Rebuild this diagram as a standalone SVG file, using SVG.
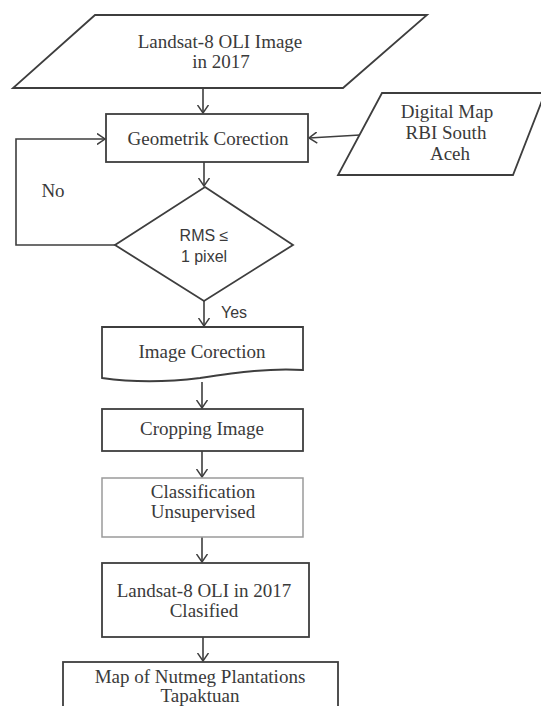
<svg xmlns="http://www.w3.org/2000/svg" width="541" height="706" viewBox="0 0 541 706">
<style>
.s{fill:#fff;stroke:#3e3e3e;stroke-width:1.8}
.l{fill:#fff;stroke:#9a9a9a;stroke-width:1.5}
.t{font-family:"Liberation Serif","Times New Roman",serif;font-size:19px;fill:#3a3a3a;text-anchor:middle}
.a{font-family:"Liberation Sans",Arial,sans-serif;font-size:16px;fill:#3a3a3a;text-anchor:middle}
.c{fill:none;stroke:#3e3e3e;stroke-width:1.6}
</style>
<defs>
<marker id="ah" viewBox="0 0 9 12" refX="8.5" refY="6" markerWidth="9" markerHeight="12" markerUnits="userSpaceOnUse" orient="auto">
<path d="M0.5,0.5 L8.5,6 L0.5,11.5" fill="none" stroke="#3e3e3e" stroke-width="1.5"/>
</marker>
</defs>
<rect width="541" height="706" fill="#fff"/>
<g id="connectors">
<line class="c" x1="203" y1="88" x2="203" y2="113" marker-end="url(#ah)"/>
<line class="c" x1="360" y1="135" x2="309" y2="138" marker-end="url(#ah)"/>
<line class="c" x1="204" y1="162" x2="204" y2="186" marker-end="url(#ah)"/>
<polyline class="c" points="115,245 16,245 16,139 105,139" marker-end="url(#ah)"/>
<line class="c" x1="204" y1="301" x2="204" y2="326" marker-end="url(#ah)"/>
<line class="c" x1="202" y1="382" x2="202" y2="408" marker-end="url(#ah)"/>
<line class="c" x1="202" y1="451" x2="202" y2="477" marker-end="url(#ah)"/>
<line class="c" x1="202" y1="537" x2="202" y2="562" marker-end="url(#ah)"/>
<line class="c" x1="203" y1="637" x2="203" y2="661" marker-end="url(#ah)"/>
</g>
<g id="landsat-input">
<polygon class="s" points="95,15 427,15 343,88 13,88"/>
<text class="t" x="220" y="48">Landsat-8 OLI Image</text>
<text class="t" x="221" y="68">in 2017</text>
</g>
<g id="digital-map">
<polygon class="s" points="382,93 545,93 513,175 338,175"/>
<text class="t" x="447" y="118">Digital Map</text>
<text class="t" x="446" y="139">RBI South</text>
<text class="t" x="450" y="160">Aceh</text>
</g>
<g id="geometrik">
<rect class="s" x="106" y="114" width="202" height="48"/>
<text class="t" x="208" y="145">Geometrik Corection</text>
</g>
<g id="rms">
<polygon class="s" points="205,187 293,245 204,301 115,245"/>
<text class="a" x="204" y="241">RMS ≤</text>
<text class="a" x="204" y="262">1 pixel</text>
</g>
<text class="t" x="53" y="197">No</text>
<text class="a" x="234" y="318">Yes</text>
<g id="image-correction">
<path class="s" d="M102,327 H303 V370 C270,368 240,372 200,378 C160,383 130,382 102,378 Z"/>
<text class="t" x="202" y="358">Image Corection</text>
</g>
<g id="cropping">
<rect class="s" x="102" y="409" width="201" height="42"/>
<text class="t" x="202" y="435">Cropping Image</text>
</g>
<g id="classification">
<rect class="l" x="102" y="478" width="201" height="59"/>
<text class="t" x="203" y="498">Classification</text>
<text class="t" x="203" y="518">Unsupervised</text>
</g>
<g id="classified">
<rect class="s" x="102" y="563" width="207" height="74"/>
<text class="t" x="204" y="597">Landsat-8 OLI in 2017</text>
<text class="t" x="204" y="617">Clasified</text>
</g>
<g id="map">
<rect class="s" x="63" y="662" width="275" height="60"/>
<text class="t" x="200" y="683">Map of Nutmeg Plantations</text>
<text class="t" x="200" y="702">Tapaktuan</text>
</g>
</svg>
